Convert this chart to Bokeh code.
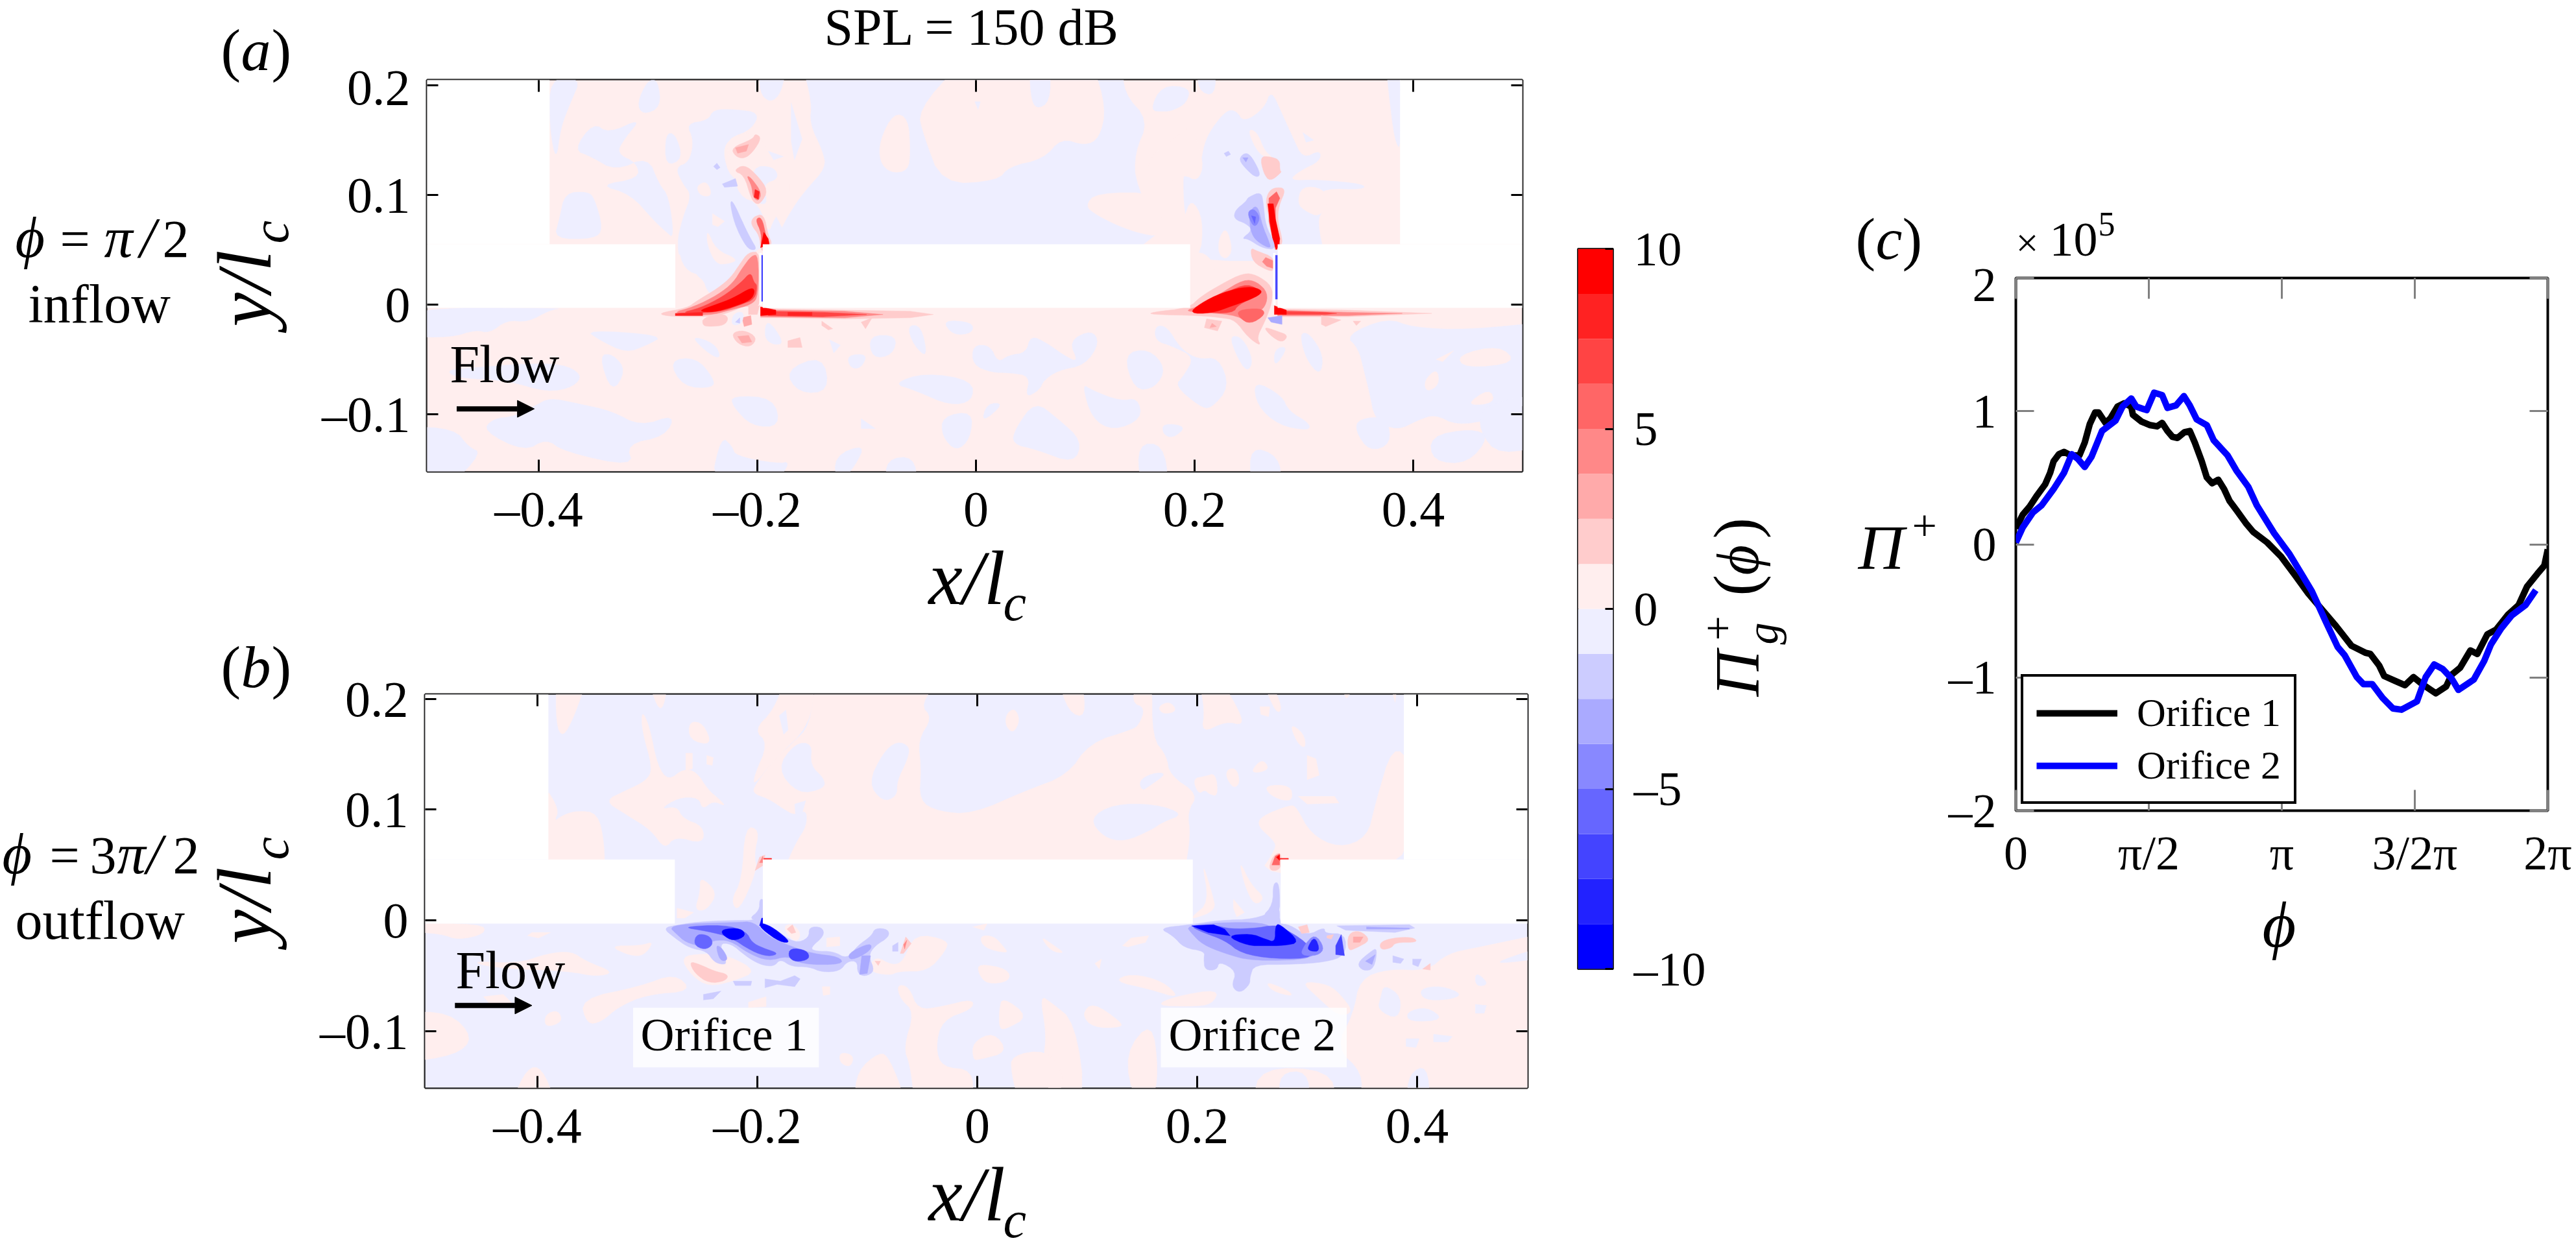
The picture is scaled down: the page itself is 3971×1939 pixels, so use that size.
import numpy as np
from bokeh.core.properties import value
from bokeh.embed import file_html
from bokeh.resources import INLINE
from bokeh.plotting import figure
from bokeh.layouts import row, column
from bokeh.models import Range1d, LinearAxis, FixedTicker, Arrow, NormalHead, Legend, LegendItem

# ---------- values ----------
X_TICKS = [-0.4, -0.2, 0, 0.2, 0.4]
X_TICK_TEXT = {-0.4: "\u20130.4", -0.2: "\u20130.2", 0: "0", 0.2: "0.2", 0.4: "0.4"}
Y_TICKS = [-0.1, 0, 0.1, 0.2]
Y_TICK_TEXT = {-0.1: "\u20130.1", 0: "0", 0.1: "0.1", 0.2: "0.2"}
CB_TICKS = [-10, -5, 0, 5, 10]
CB_TICK_TEXT = {-10: "\u201310", -5: "\u20135", 0: "0", 5: "5", 10: "10"}
CB_EDGES = [-10, -8.75, -7.5, -6.25, -5, -3.75, -2.5, -1.25, 0, 1.25, 2.5, 3.75, 5, 6.25, 7.5, 8.75, 10]
BAND_SHADES = ["#0000FF", "#2222FF", "#4444FF", "#6666FF", "#8888FF", "#AAAAFF", "#CCCCFF", "#EEEEFF",
               "#FFEEEE", "#FFCCCC", "#FFAAAA", "#FF8888", "#FF6666", "#FF4444", "#FF2222", "#FF0000"]

# solid walls, x0,x1,y0,y1 in units of 1/1000 l_c
WALLS = [(-520, -390, 55, 215), (-520, -275, -3, 55), (-195, 196, -3, 55), (276, 520, -3, 55), (388, 520, 55, 215)]

# field regions: (level, [(x, y), ...]), x and y in units of 1/1000 l_c, level = band number from zero
A_BG_BLUE = [
 [(-390,207),(-361,207),(-371,184),(-380,161),(-384,130),(-390,161)],
 [(-386,60),(-349,60),(-341,69),(-349,97),(-355,103),(-376,102),(-381,78)],
 [(-368,141),(-350,166),(-336,156),(-306,170),(-321,152),(-329,138),(-310,129),(-308,115),(-345,109),(-316,101),(-294,76),(-284,67),(-276,60),(-281,99),(-290,110),(-300,135),(-330,122),(-352,135)],
 [(-310,184),(-300,205),(-291,205),(-288,180),(-305,173)],
 [(-265,165),(-245,168),(-240,178),(-220,178),(-198,175),(-205,160),(-225,152),(-232,140),(-225,115),(-205,110),(-195,95),(-185,85),(-175,65),(-165,55),(-195,55),(-210,40),(-225,20),(-232,5),(-245,10),(-250,25),(-268,30),(-274,55),(-268,80),(-260,100),(-268,110),(-275,125),(-262,130),(-258,150)],
 [(-159,220),(-150,184),(-152,165),(-140,140),(-137,125),(-155,105),(-165,92),(-178,70),(-190,40),(180,40),(146,109),(145,138),(158,168),(135,193),(135,220)],
 [(190,129),(206,129),(209,147),(216,161),(229,177),(238,177),(245,166),(264,179),(270,196),(280,174),(290,152),(299,133),(315,141),(315,131),(296,122),(286,113),(312,114),(355,110),(355,105),(318,106),(315,97),(318,87),(312,76),(320,40),(180,40),(195,65),(190,90)],
 [(159,177),(170,200),(196,198),(193,184),(180,177),(172,176)],
 [(203,220),(219,220),(219,190),(203,195)],
 [(375,220),(389,220),(389,140),(383,150),(378,190)],
 [(299,157),(309,150),(302,148)],
 [(-198,220),(-173,220),(-178,193),(-188,184),(-198,193)],
 [(-169,184),(-159,151),(-166,132),(-169,149)],
 [(-284,156),(-275,156),(-268,133),(-284,126)],
 [(-525,-3),(-377,-3),(-390,-5),(-410,-16),(-429,-14),(-445,-26),(-458,-23),(-480,-30),(-525,-29)],
 [(-485,-60),(-465,-58),(-416,-54),(-378,-54),(-360,-64),(-368,-75),(-392,-80),(-429,-69),(-474,-67)],
 [(-403,-92),(-390,-85),(-365,-90),(-333,-97),(-307,-111),(-275,-100),(-284,-120),(-320,-127),(-313,-148),(-377,-134),(-393,-122),(-413,-134),(-451,-115),(-442,-104),(-422,-102)],
 [(-525,-111),(-477,-113),(-464,-130),(-452,-135),(-480,-165),(-525,-165)],
 [(-281,-51),(-256,-48),(-240,-67),(-240,-76),(-268,-75)],
 [(-357,-23),(-285,-28),(-301,-37),(-320,-44),(-345,-32)],
 [(-345,-46),(-332,-45),(-320,-60),(-333,-81)],
 [(-262,-28),(-239,-35),(-233,-49),(-243,-46)],
 [(-223,-83),(-185,-85),(-179,-111),(-205,-111),(-223,-92)],
 [(-175,-60),(-140,-46),(-134,-79),(-162,-81)],
 [(-191,-12),(-175,-35),(-185,-37),(-194,-30)],
 [(-98,-28),(-72,-28),(-76,-46),(-95,-49)],
 [(-76,-72),(-47,-62),(-3,-69),(-3,-88),(-24,-92),(-56,-78)],
 [(-31,-102),(-3,-97),(-5,-122),(-18,-134),(-31,-120)],
 [(-130,-138),(-101,-127),(-111,-148),(-127,-165)],
 [(-82,-141),(-57,-138),(-53,-165),(-82,-165)],
 [(-243,-165),(-233,-120),(-223,-129),(-220,-138),(-182,-145),(-169,-143),(-185,-165)],
 [(-105,-104),(-92,-113),(-105,-113)],
 [(-118,-46),(-99,-45),(-105,-58),(-115,-58)],
 [(-31,-14),(-3,-16),(-3,-26),(-21,-28)],
 [(-63,-19),(-50,-19),(-44,-49),(-57,-37)],
 [(-134,-32),(-124,-37),(-130,-44)],
 [(-3,-37),(13,-37),(20,-53),(30,-46),(46,-44),(50,-28),(65,-35),(80,-46),(94,-53),(85,-33),(106,-23),(113,-35),(100,-55),(75,-60),(62,-69),(58,-78),(45,-85),(50,-65),(30,-62),(15,-62),(-3,-55)],
 [(135,-45),(158,-40),(174,-58),(164,-76),(145,-78)],
 [(164,-19),(175,-20),(187,-40),(203,-50),(222,-48),(232,-75),(215,-95),(205,-93),(182,-74),(190,-65),(200,-48),(180,-38),(164,-33)],
 [(232,-28),(244,-30),(254,-51),(248,-62),(238,-46)],
 [(273,-40),(286,-38),(273,-58)],
 [(296,-26),(305,-26),(318,-46),(315,-65),(302,-50)],
 [(338,-28),(376,-12),(400,-21),(450,-23),(530,-15),(530,-70),(490,-100),(470,-105),(440,-110),(420,-100),(405,-105),(385,-115),(365,-105),(360,-80),(355,-60),(350,-40)],
 [(350,-104),(376,-102),(380,-127),(360,-134),(347,-115)],
 [(415,-120),(453,-113),(470,-120),(450,-145),(418,-143)],
 [(463,-90),(530,-80),(530,-125),(479,-138),(460,-115)],
 [(254,-69),(280,-83),(286,-97),(305,-108),(305,-115),(277,-110),(257,-92)],
 [(97,-72),(106,-78),(132,-88),(148,-85),(152,-104),(126,-115),(106,-104)],
 [(10,-90),(26,-90),(5,-108)],
 [(54,-88),(75,-104),(97,-124),(90,-145),(55,-132),(33,-127),(36,-113)],
 [(171,-108),(193,-111),(180,-122),(171,-118)],
 [(148,-127),(171,-127),(177,-165),(150,-165)],
 [(251,-129),(277,-138),(280,-165),(251,-165)],
]
A_BG_PINK = [
 [(-3,220),(-15,220),(-53,177),(-48,155),(-31,110),(20,113),(30,126),(62,133),(78,152),(100,145),(113,152),(119,179),(107,220)],
 [(-75,175),(-62,170),(-60,140),(-62,122),(-78,120),(-88,130),(-88,150)],
 [(100,90),(110,102),(168,102),(171,75),(168,62),(150,65),(130,72),(110,82)],
 [(155,125),(165,140),(183,152),(196,165),(209,130),(203,112),(190,119),(177,110),(164,124)],
 [(248,160),(257,158),(264,140),(273,133),(259,136)],
 [(222,60),(229,71),(235,50),(229,41),(222,46)],
 [(196,46),(209,48),(220,34),(216,23),(203,9),(196,4)],
 [(298,108),(318,106),(322,92),(314,80),(302,85),(294,92)],
 [(175,40),(190,78),(197,97),(208,78),(205,40)],
 [(-273,53),(-267,32),(-249,25),(-268,5),(-273,4)],
 [(-246,69),(-238,50),(-217,41),(-227,37),(-238,37),(-246,55)],
 [(-256,108),(-246,113),(-241,99),(-252,99)],
 [(-241,83),(-230,76),(-236,71),(-241,73)],
 [(-230,152),(-198,159),(-195,147),(-185,138),(-166,106),(-185,78),(-190,64),(-198,92),(-217,99),(-223,126)],
 [(410,-69),(422,-58),(424,-73),(412,-80)],
 [(421,-50),(437,-42),(427,-52)],
 [(440,-46),(479,-37),(495,-53),(447,-58)],
 [(447,-92),(470,-76),(475,-90)],
]
A_BG_BLUE2 = [
 [(49,220),(68,220),(68,185),(55,178),(50,190)],
 [(-1,185),(4,185),(2,178)],
 [(-205,126),(-185,126),(-180,115),(-195,110),(-190,90),(-205,95)],
 [(-190,140),(-176,135),(-185,132)],
 [(148,-52),(158,-50),(150,-58)],
]
A_JETS = [
 # orifice 1
 (2,[(-292,-8),(-264,-3),(-256,3),(-236,15),(-224,25),(-216,37),(-208,48),(-197,48),(-197,5),(-200,-3),(-212,-1),(-220,-5),(-232,-9),(-244,-11),(-279,-11)]),
 (4,[(-280,-8),(-258,-2),(-236,9),(-222,20),(-214,33),(-205,45),(-199,45),(-199,8),(-205,0),(-225,-5),(-244,-10)]),
 (6,[(-272,-8),(-252,-3),(-232,7),(-215,20),(-206,30),(-203,20),(-200,18),(-202,5),(-215,0),(-235,-7)]),
 (8,[(-255,-6),(-238,0),(-222,6),(-205,16),(-202,12),(-206,4),(-222,-2),(-240,-7)]),
 (7,[(-275,-8),(-250,-7),(-250,-10),(-275,-10)]),
 (2,[(-197,-3),(-180,-4),(-120,-5),(-60,-6),(-39,-9),(-60,-12),(-120,-13),(-180,-12),(-197,-12)]),
 (4,[(-197,-3),(-185,-5),(-120,-6),(-85,-9),(-120,-12),(-197,-11)]),
 (6,[(-190,-6),(-140,-7),(-100,-9),(-140,-11),(-190,-10)]),
 (8,[(-197,-2),(-183,-5),(-183,-9),(-197,-10)]),
 (7,[(-172,-7),(-150,-7),(-150,-10),(-172,-10)]),
 (2,[(-206,73),(-204,80),(-194,83),(-190,63),(-186,55),(-194,49),(-197,50),(-198,63)]),
 (5,[(-202,78),(-196,80),(-192,63),(-190,55),(-197,52),(-196,65)]),
 (8,[(-194,66),(-190,60),(-189,55),(-197,52)]),
 (2,[(-222,122),(-212,128),(-200,118),(-190,104),(-197,92),(-202,92),(-206,98),(-212,118)]),
 (4,[(-210,118),(-205,115),(-196,102),(-199,94),(-204,98),(-205,108)]),
 (7,[(-202,105),(-198,103),(-199,96),(-203,98)]),
 (2,[(-224,143),(-204,151),(-202,156),(-196,152),(-204,139),(-212,133),(-220,135)]),
 (3,[(-220,143),(-208,146),(-210,140),(-218,138)]),
 (2,[(-224,-26),(-212,-23),(-200,-30),(-206,-39),(-218,-36)]),
 (3,[(-218,-29),(-208,-28),(-205,-34),(-214,-35)]),
 (2,[(-250,-19),(-250,-12),(-232,-8),(-226,-12),(-230,-19),(-244,-20)]),
 (3,[(-214,-12),(-206,-10),(-205,-18),(-212,-20)]),
 (-1,[(-222,-8),(-212,-6),(-214,-18),(-224,-19)]),
 (-2,[(-220,-16),(-216,-12),(-216,-17)]),
 (2,[(-208,-1),(-198,-1),(-200,-9),(-208,-9)]),
 (2,[(-172,-33),(-161,-30),(-159,-39),(-172,-39)]),
 (2,[(-105,-16),(-95,-12),(-101,-22)]),
 (2,[(-141,-15),(-131,-22),(-135,-23),(-141,-19)]),
 (-2,[(-232,110),(-220,115),(-218,108),(-230,107)]),
 (-2,[(-240,126),(-237,129),(-234,125),(-237,123)]),
 (-2,[(-225,94),(-222,94),(-212,72),(-206,60),(-200,50),(-208,50),(-216,63),(-222,78)]),
 (0,[(-198,47),(-196,47),(-196,0),(-198,0)]),
 (-7,[(-196,45),(-194,45),(-194,3),(-196,3)]),
 # orifice 2
 (2,[(160,-7),(195,-3),(205,7),(225,19),(245,29),(257,27),(271,17),(271,3),(267,-9),(263,-18),(257,-30),(261,-38),(249,-30),(237,-14),(225,-12),(205,-10),(160,-9)]),
 (2,[(211,-13),(225,-15),(221,-24),(209,-21)]),
 (3,[(216,-17),(220,-20),(214,-21)]),
 (4,[(190,-6),(205,-1),(225,11),(245,23),(257,21),(267,11),(265,-2),(255,-9),(250,-18),(240,-10),(210,-7)]),
 (6,[(195,-6),(220,6),(245,19),(258,15),(258,8),(240,0),(235,-8),(205,-7)]),
 (8,[(195,-8),(205,1),(225,11),(249,17),(263,13),(257,7),(235,-1),(215,-8)]),
 (5,[(239,-5),(261,-3),(265,-9),(251,-18),(241,-12)]),
 (2,[(276,-4),(340,-5),(417,-8),(340,-11),(276,-11)]),
 (4,[(276,-5),(340,-7),(390,-8),(340,-10),(276,-10)]),
 (6,[(280,-6),(320,-7),(330,-8),(320,-9),(280,-9)]),
 (8,[(273,-1),(284,-5),(284,-9),(273,-9)]),
 (2,[(316,-10),(334,-14),(320,-20),(316,-18)]),
 (2,[(345,-15),(352,-15),(348,-19)]),
 (2,[(267,102),(273,107),(284,106),(277,90),(276,76),(280,61),(280,55),(276,49),(273,55),(269,76),(265,92)]),
 (5,[(268,97),(275,103),(278,97),(274,88),(274,76),(277,61),(278,55),(274,50),(272,58),(268,76)]),
 (8,[(267,92),(272,92),(274,78),(278,60),(277,54),(275,50),(272,57),(269,75)]),
 (2,[(251,52),(257,49),(273,43),(273,31),(267,31),(253,39)]),
 (4,[(265,43),(272,40),(272,33),(266,35),(262,39)]),
 (2,[(260,135),(269,135),(278,132),(278,122),(280,121),(269,112),(263,120)]),
 (-2,[(241,134),(247,139),(253,134),(261,118),(255,116),(243,128)]),
 (-3,[(244,134),(249,134),(247,130)]),
 (-2,[(227,138),(231,140),(233,137),(229,135)]),
 (-2,[(249,98),(261,103),(263,92),(265,72),(273,57),(273,50),(261,52),(249,60),(243,60),(253,68),(247,74),(236,78),(237,86),(247,94)]),
 (-3,[(252,88),(258,90),(262,72),(268,58),(270,51),(261,55),(253,62),(250,75)]),
 (-4,[(248,84),(254,88),(260,80),(257,72),(253,72)]),
 (-5,[(252,81),(256,80),(255,74)]),
 (-3,[(267,-12),(280,-10),(280,-18),(270,-16)]),
 (0,[(272,47),(274,47),(274,0),(272,0)]),
 (-6,[(274,45),(276,45),(276,5),(274,5)]),
 (2,[(263,-20),(275,-24),(286,-28),(280,-35),(269,-28)]),
]

B_BG_PINK = [
 [(-383,220),(-354,220),(-367,183),(-377,165),(-383,177)],
 [(-395,124),(-380,100),(-385,89),(-377,95),(-364,99),(-345,97),(-339,69),(-339,40),(-395,40)],
 [(-300,220),(-281,220),(-285,192),(-291,192)],
 [(-339,108),(-320,117),(-301,126),(-295,137),(-305,172),(-305,190),(-298,175),(-291,140),(-281,126),(-267,137),(-255,134),(-245,118),(-233,108),(-229,103),(-240,108),(-250,100),(-253,111),(-272,111),(-289,100),(-273,103),(-268,92),(-249,85),(-249,69),(-275,76),(-284,64),(-297,82),(-320,96)],
 [(-265,151),(-259,151),(-259,137),(-265,135)],
 [(-262,180),(-249,178),(-241,158),(-262,163)],
 [(-246,149),(-240,147),(-241,140),(-246,141)],
 [(-174,220),(-147,220),(-152,176),(-185,145),(-203,122),(-203,130),(-190,160),(-203,172),(-185,190)],
 [(-147,220),(-152,176),(-168,160),(-185,145),(-200,125),(-205,115),(-190,110),(-175,100),(-166,95),(-155,100),(-155,85),(-165,70),(-178,40),(188,40),(194,77),(191,98),(201,114),(175,131),(172,149),(159,165),(159,220),(147,220),(140,197),(153,192),(147,176),(140,172),(102,160),(82,131),(44,117),(-4,96),(-35,98),(-53,108),(-51,137),(-54,163),(-41,183),(-52,195),(-32,220)],
 [(-273,11),(-258,7),(-266,2),(-273,2)],
 [(-252,40),(-236,25),(-246,9),(-257,9),(-252,25)],
 [(-211,85),(-198,82),(-203,59),(-200,46),(-217,7),(-224,18),(-214,36)],
 [(-525,-83),(-480,-83),(-458,-106),(-474,-122),(-525,-129)],
 [(-525,-3),(-450,-3),(-447,-12),(-472,-18),(-488,-12),(-525,-10)],
 [(-405,-11),(-388,-11),(-399,-16),(-409,-14)],
 [(-458,-37),(-417,-39),(-391,-30),(-369,-28),(-356,-37),(-330,-47),(-346,-51),(-372,-46),(-423,-44),(-449,-41)],
 [(-335,-23),(-306,-23),(-294,-19),(-303,-32),(-316,-32)],
 [(-449,-69),(-431,-67),(-422,-76),(-441,-78)],
 [(-361,-71),(-307,-60),(-275,-48),(-259,-64),(-300,-67),(-326,-78),(-342,-92),(-355,-94)],
 [(-393,-85),(-381,-81),(-377,-92),(-393,-97)],
 [(-208,-74),(-192,-69),(-192,-78),(-208,-79)],
 [(-424,-165),(-409,-133),(-396,-133),(-383,-165)],
 [(-270,-33),(-249,-30),(-226,-32),(-200,-46),(-222,-55),(-244,-60),(-260,-50)],
 [(-99,-46),(-93,-32),(-77,-41),(-67,-37),(-57,-12),(-26,-18),(-29,-28),(-45,-46),(-71,-46),(-80,-50)],
 [(-176,-5),(-168,-3),(-160,-12),(-164,-20),(-172,-14)],
 [(-137,-16),(-125,-15),(-125,-23),(-137,-24)],
 [(-141,-60),(-134,-60),(-134,-67),(-140,-68)],
 [(-125,-119),(-112,-122),(-115,-133),(-125,-129)],
 [(-109,-136),(-89,-119),(-80,-124),(-64,-165),(-112,-165)],
 [(-73,-58),(-62,-60),(-54,-81),(-32,-78),(-4,-71),(-4,-80),(-32,-90),(-38,-115),(-32,-133),(-4,-135),(-4,-165),(-57,-165),(-61,-131),(-67,-115),(-57,-83),(-70,-71)],
 [(-4,-6),(9,-3),(6,-9)],
 [(2,-14),(15,-14),(25,-25),(28,-30),(6,-25)],
 [(57,-14),(70,-23),(80,-30),(67,-28)],
 [(132,-23),(140,-16),(156,-14),(153,-20),(137,-24)],
 [(1,-39),(28,-44),(30,-55),(9,-58),(1,-48)],
 [(107,-39),(113,-35),(111,-44)],
 [(124,-55),(140,-48),(169,-55),(185,-71),(156,-62)],
 [(262,-55),(284,-64),(287,-69),(268,-64)],
 [(294,-55),(320,-58),(332,-69),(342,-83),(329,-87),(310,-70)],
 [(348,-53),(374,-44),(409,-46),(428,-30),(453,-25),(530,-9),(530,-165),(348,-165),(351,-138),(326,-115),(342,-85)],
 [(250,-165),(258,-133),(320,-135),(328,-165)],
 [(20,-81),(23,-69),(47,-87),(25,-99),(20,-97)],
 [(57,-68),(67,-74),(89,-92),(99,-165),(67,-165),(60,-126),(63,-103)],
 [(95,-85),(105,-74),(131,-92),(131,-97),(105,-97)],
 [(-4,-110),(15,-101),(28,-119),(2,-126),(-4,-126)],
 [(31,-122),(63,-117),(79,-138),(73,-165),(38,-165),(31,-138)],
 [(134,-120),(159,-90),(165,-138),(159,-165),(143,-165)],
 [(162,-77),(179,-69),(220,-62),(214,-76),(194,-78)],
 [(73,220),(95,220),(99,183),(83,188)],
 [(26,186),(34,192),(39,181),(33,169),(26,175)],
 [(164,193),(175,198),(182,189),(169,186)],
 [(182,220),(201,220),(207,190),(204,169),(226,180),(242,176),(238,190),(220,220)],
 [(258,220),(265,220),(278,192),(272,186)],
 [(257,193),(266,193),(265,184),(258,186)],
 [(284,178),(297,169),(299,155),(291,160)],
 [(332,220),(345,220),(335,195)],
 [(374,220),(383,220),(380,197)],
 [(300,149),(308,146),(311,131),(300,127)],
 [(249,135),(259,146),(266,137),(255,133)],
 [(228,137),(236,137),(239,124),(233,119),(226,130)],
 [(196,128),(207,130),(217,133),(219,112),(211,114),(207,118),(201,114)],
 [(262,122),(285,122),(287,109),(278,108),(265,114)],
 [(292,112),(325,112),(329,106),(300,105)],
 [(378,159),(395,142),(395,40),(255,40),(272,65),(270,72),(255,85),(258,94),(284,104),(290,103),(303,78),(329,65),(355,75),(362,105)],
 [(238,55),(249,32),(262,20),(252,13),(243,32)],
 [(204,55),(214,23),(217,9),(196,1),(196,4),(211,16)],
 [(233,19),(243,7),(236,3),(233,11)],
]
B_BG_BLUE = [
 [(-99,124),(-86,151),(-73,162),(-61,157),(-64,144),(-73,126),(-73,112),(-86,107)],
 [(-182,137),(-166,160),(-150,160),(-152,140),(-139,128),(-139,119),(-163,114)],
 [(-166,105),(-156,108),(-160,94),(-165,92)],
 [(102,92),(124,105),(162,105),(188,96),(169,89),(159,82),(134,71),(115,75)],
 [(147,126),(159,133),(173,133),(156,121),(150,117)],
 [(-180,185),(-174,190),(-172,172),(-176,168)],
 [(402,-62),(422,-59),(442,-67),(428,-72),(406,-72)],
 [(390,-83),(409,-78),(425,-90),(393,-92)],
 [(473,-37),(530,-19),(530,-32),(479,-39)],
 [(453,-46),(466,-58),(453,-60)],
 [(390,-107),(402,-107),(399,-115),(390,-114)],
 [(415,-103),(432,-105),(428,-110),(415,-110)],
 [(370,-58),(386,-69),(383,-90),(364,-81),(367,-69)],
 [(453,-76),(463,-77),(461,-84),(453,-84)],
 [(275,-165),(275,-138),(300,-136),(303,-165)],
 [(390,-165),(393,-138),(409,-131),(412,-165)],
]
B_JETS = [
 # orifice 1
 (2,[(-262,-37),(-252,-40),(-239,-46),(-226,-49),(-229,-55),(-244,-57),(-257,-48)]),
 (2,[(-173,-8),(-168,-4),(-165,-11),(-169,-12)]),
 (2,[(-93,-37),(-88,-37),(-90,-41)]),
 (2,[(-70,-30),(-65,-15),(-60,-21),(-67,-30)]),
 (4,[(-67,-22),(-64,-18),(-66,-26)]),
 (-2,[(-198,19),(-194,19),(-194,0),(-208,1),(-198,9)]),
 (-2,[(-286,-7),(-272,-4),(-249,-1),(-217,0),(-203,0),(-200,4),(-194,4),(-194,-4),(-185,-7),(-166,-21),(-153,-16),(-153,-6),(-141,-6),(-139,-14),(-152,-25),(-147,-28),(-131,-28),(-118,-35),(-109,-23),(-96,-14),(-93,-7),(-81,-8),(-80,-15),(-93,-23),(-99,-32),(-93,-46),(-102,-51),(-109,-48),(-109,-37),(-118,-37),(-125,-46),(-141,-47),(-153,-42),(-169,-42),(-179,-35),(-185,-42),(-198,-40),(-211,-32),(-224,-21),(-235,-21),(-227,-39),(-233,-40),(-240,-37),(-246,-28),(-262,-25),(-275,-16)]),
 (-3,[(-280,-6),(-262,-3),(-220,-2),(-203,-1),(-190,-15),(-168,-24),(-150,-30),(-125,-33),(-122,-40),(-160,-40),(-172,-32),(-190,-37),(-208,-30),(-225,-18),(-240,-18),(-250,-24),(-265,-20),(-274,-12)]),
 (-3,[(-238,-22),(-232,-25),(-226,-36),(-234,-37)]),
 (-5,[(-270,-6),(-230,-4),(-210,-10),(-205,-20),(-195,-25),(-180,-30),(-190,-33),(-205,-28),(-225,-15),(-245,-10)]),
 (-5,[(-255,-12),(-243,-14),(-240,-22),(-248,-27),(-258,-22)]),
 (-6,[(-170,-25),(-155,-27),(-152,-35),(-165,-38),(-172,-33)]),
 (-8,[(-232,-8),(-215,-7),(-210,-14),(-222,-19),(-232,-13)]),
 (-8,[(-198,-3),(-194,-3),(-185,-7),(-169,-20),(-179,-20),(-196,-8)]),
 (-8,[(-196,2),(-194,2),(-194,-3),(-198,-5)]),
 (-3,[(-118,-30),(-97,-20),(-96,-27),(-115,-37)]),
 (-2,[(-222,-55),(-205,-55),(-206,-59),(-220,-59)]),
 (-2,[(-193,-53),(-179,-55),(-166,-50),(-161,-53),(-166,-60),(-182,-58),(-193,-61)]),
 (-2,[(-249,-67),(-233,-64),(-240,-71),(-249,-72)]),
 (-3,[(-105,-32),(-97,-32),(-100,-48),(-107,-49)]),
 (-2,[(-77,-23),(-72,-20),(-72,-28),(-77,-28)]),
 (2,[(-202,45),(-198,57),(-193,59),(-194,50)]),
 (4,[(-198,52),(-195,58),(-194,52)]),
 (7,[(-194,56),(-187,56),(-187,55),(-194,55)]),
 # orifice 2
 (-2,[(269,34),(275,34),(275,0),(258,2),(269,14)]),
 (-2,[(165,-7),(194,-4),(220,0),(252,1),(271,9),(275,11),(275,-3),(284,-4),(300,-14),(316,-6),(316,-12),(335,-12),(335,-32),(316,-38),(284,-40),(252,-40),(248,-51),(248,-58),(239,-66),(231,-60),(236,-46),(220,-37),(218,-45),(207,-45),(206,-35),(207,-28),(188,-25),(178,-14)]),
 (-2,[(327,-5),(393,-4),(398,-7),(380,-11),(335,-9)]),
 (-3,[(354,-6),(393,-7),(393,-8),(354,-8)]),
 (-3,[(190,-5),(220,-2),(260,-2),(270,-8),(300,-20),(310,-35),(250,-37),(225,-30),(205,-22),(195,-12)]),
 (-5,[(193,-5),(215,-4),(230,-8),(255,-7),(265,-5),(275,-5),(300,-20),(308,-34),(270,-35),(240,-30),(225,-18),(205,-11)]),
 (-8,[(195,-5),(215,-4),(225,-8),(230,-14),(210,-11)]),
 (-8,[(226,-14),(249,-12),(262,-17),(271,-20),(271,-5),(275,-3),(294,-20),(278,-23),(262,-23),(246,-23)]),
 (-4,[(297,-23),(307,-12),(316,-25),(310,-32),(294,-32)]),
 (-7,[(300,-25),(307,-14),(312,-28),(303,-28)]),
 (-6,[(326,-23),(331,-13),(334,-32),(326,-31)]),
 (-2,[(345,-39),(358,-28),(364,-25),(361,-44),(351,-46)]),
 (-3,[(353,-37),(362,-31),(359,-40)]),
 (-2,[(378,-32),(388,-35),(385,-39),(378,-38)]),
 (-2,[(396,-35),(404,-35),(401,-42),(396,-40)]),
 (2,[(337,-12),(348,-9),(358,-18),(345,-25),(337,-28)]),
 (3,[(342,-15),(351,-15),(348,-20),(342,-20)]),
 (2,[(366,-20),(377,-16),(396,-15),(401,-20),(380,-20),(377,-25),(367,-27)]),
 (2,[(292,-6),(300,-4),(302,-11),(295,-12)]),
 (2,[(318,-14),(324,-13),(322,-17),(318,-16)]),
 (2,[(405,-44),(412,-39),(412,-45)]),
 (2,[(265,45),(268,57),(275,62),(277,55),(275,45)]),
 (5,[(268,50),(271,58),(275,60),(275,50)]),
 (8,[(272,57),(275,59),(275,54)]),
 (7,[(275,56),(283,56),(283,55),(275,55)]),
]

# panel (c), phi in units of pi, Pi+ in units of 1e5
PHI_1 = [0,.026,.052,.078,.110,.129,.142,.162,.181,.207,.239,.259,.278,.298,.311,.337,.356,.382,.408,.434,.440,.473,.505,.531,.550,.570,.589,.608,.634,.654,.673,.699,.718,.738,.761,.783,.803,.829,.867,.893,.945,.997,1.049,1.100,1.152,1.204,1.262,1.314,1.333,1.366,1.385,1.424,1.463,1.495,1.528,1.579,1.618,1.638,1.670,1.709,1.735,1.773,1.806,1.851,1.890,1.922,1.961,1.987,2.000]
PI_1 = [.119,.223,.284,.363,.450,.537,.624,.677,.694,.668,.668,.764,.903,.990,.990,.912,.947,1.034,1.060,1.034,.973,.921,.895,.886,.912,.851,.807,.799,.842,.851,.764,.624,.502,.459,.485,.415,.328,.258,.153,.092,.014,-.091,-.230,-.370,-.492,-.614,-.762,-.814,-.823,-.910,-.989,-1.024,-1.058,-.997,-1.050,-1.119,-1.067,-.980,-.928,-.797,-.823,-.675,-.640,-.527,-.457,-.317,-.221,-.160,-.038]
PHI_2 = [0,.026,.065,.097,.142,.181,.210,.233,.259,.285,.324,.375,.401,.434,.453,.492,.520,.550,.570,.602,.632,.654,.680,.718,.744,.796,.829,.874,.906,.971,1.029,1.113,1.165,1.210,1.236,1.282,1.307,1.340,1.379,1.418,1.450,1.508,1.541,1.573,1.605,1.638,1.664,1.722,1.761,1.786,1.825,1.864,1.916,1.955]
PI_2 = [.014,.127,.241,.293,.415,.537,.677,.642,.581,.659,.851,.929,1.034,1.095,1.034,1.008,1.139,1.121,1.025,1.043,1.113,1.043,.938,.895,.781,.668,.555,.432,.293,.084,-.073,-.352,-.579,-.771,-.832,-.997,-1.050,-1.050,-1.154,-1.233,-1.242,-1.180,-.997,-.902,-.936,-1.006,-1.093,-1.015,-.875,-.753,-.631,-.535,-.457,-.344]
C_X_TICK_POS = [0, 0.5, 1, 1.5, 2]
C_X_TICK_TEXT = ["0", "\u03c0/2", "\u03c0", "3/2\u03c0", "2\u03c0"]
C_Y_TICKS = [-2, -1, 0, 1, 2]
C_Y_TICK_TEXT = {-2: "\u20132", -1: "\u20131", 0: "0", 1: "1", 2: "2"}

FONT = "Liberation Serif"
BASELINE_SHIFT = 0.35  # the page draws alphabetic text this many em lower than asked


def shade(level):
    if level == 0:
        return "#FFFFFF"
    return BAND_SHADES[7 + level] if level > 0 else BAND_SHADES[8 + level]


def round_outline(poly):
    """Cut the corners of a region's outline, as its contour lines are round in the picture."""
    xs = [q[0] for q in poly]
    ys = [q[1] for q in poly]
    if max(xs) - min(xs) < 12 or max(ys) - min(ys) < 12:
        return poly
    pts = list(poly)
    for _ in range(2):
        out = []
        for i in range(len(pts)):
            p0, p1 = pts[i], pts[(i + 1) % len(pts)]
            out.append((0.75 * p0[0] + 0.25 * p1[0], 0.75 * p0[1] + 0.25 * p1[1]))
            out.append((0.25 * p0[0] + 0.75 * p1[0], 0.25 * p0[1] + 0.75 * p1[1]))
        pts = out
    return pts


class Panel:
    """A figure whose frame sits at given page pixels; text helpers take page pixels."""
    def __init__(self, left, top, fl, fr, ft, fb, right, bottom, xr, yr, outline=True):
        self.left, self.top, self.fl, self.fr, self.ft, self.fb = left, top, fl, fr, ft, fb
        self.xr, self.yr = xr, yr
        self.p = figure(x_range=Range1d(*xr), y_range=Range1d(*yr), frame_width=fr - fl, frame_height=fb - ft,
                        min_border_left=fl - left, min_border_right=right - fr, min_border_top=ft - top,
                        min_border_bottom=bottom - fb, toolbar_location=None, output_backend="svg",
                        x_axis_type=None, y_axis_type=None, background_fill_color=None, border_fill_color=None,
                        outline_line_color="#222222" if outline else None, outline_line_width=4, frame_align=False)
        self.p.grid.visible = False

    def tx(self, px):
        return self.xr[0] + (px - self.fl) * (self.xr[1] - self.xr[0]) / (self.fr - self.fl)

    def ty(self, py):
        return self.yr[1] - (py - self.ft) * (self.yr[1] - self.yr[0]) / (self.fb - self.ft)

    def text(self, s, px, py, size, style="normal", angle=0.0):
        if angle:
            px -= BASELINE_SHIFT * size
        else:
            py -= BASELINE_SHIFT * size
        self.p.text(x=[self.tx(px)], y=[self.ty(py)], text=[s], text_font=value(FONT), text_font_size=f"{size}px",
                    text_font_style=style, text_color="black", angle=angle, text_align="left",
                    text_baseline="alphabetic")


def strip(left, top, right, bottom):
    return Panel(left, top, left, right, top, bottom, right, bottom, (0, 1), (0, 1), outline=False)


def add_axis(p, place, ticks, texts, size, standoff, tick_in, color="#000000", width=3):
    ax = LinearAxis(ticker=FixedTicker(ticks=ticks))
    ax.major_tick_in = tick_in
    ax.major_tick_out = 0
    ax.minor_tick_line_color = None
    ax.axis_line_color = None
    ax.major_tick_line_color = color
    ax.major_tick_line_width = width
    ax.major_label_text_font = FONT
    if texts is None:
        ax.major_label_text_font_size = "0px"
        ax.major_label_text_color = None
        ax.major_label_standoff = 0
    else:
        ax.major_label_overrides = texts
        ax.major_label_text_font_size = f"{size}px"
        ax.major_label_text_color = "black"
        ax.major_label_standoff = standoff
    p.add_layout(ax, place)
    return ax


def draw_polys(p, polys, colors):
    polys = [round_outline(poly) for poly in polys]
    p.patches([[q[0] / 1000 for q in poly] for poly in polys],
              [[q[1] / 1000 for q in poly] for poly in polys],
              fill_color=colors, line_color=colors, line_width=0.5)


def field_panel(pn, base, layers):
    p = pn.p
    p.quad(left=[pn.xr[0]], right=[pn.xr[1]], bottom=[pn.yr[0]], top=[pn.yr[1]], fill_color=shade(base), line_color=None)
    for level, polys in layers:
        draw_polys(p, polys, [shade(level)] * len(polys))
    for lev, poly in (A_JETS if base > 0 else B_JETS):
        draw_polys(p, [poly], [shade(lev)])
    p.quad(left=[w[0] / 1000 for w in WALLS], right=[w[1] / 1000 for w in WALLS],
           bottom=[w[2] / 1000 for w in WALLS], top=[w[3] / 1000 for w in WALLS],
           fill_color="white", line_color=None)
    add_axis(p, "below", X_TICKS, X_TICK_TEXT, 78, 14, 18)
    add_axis(p, "left", Y_TICKS, Y_TICK_TEXT, 78, 26, 17)
    add_axis(p, "above", X_TICKS, None, 0, 0, 18)
    add_axis(p, "right", Y_TICKS, None, 0, 0, 17)


def arrow(p, x0, x1, y):
    p.add_layout(Arrow(end=NormalHead(size=26, fill_color="black", line_color="black"),
                       x_start=x0, x_end=x1, y_start=y, y_end=y, line_color="black", line_width=8))


# ---------- text strips round the panels ----------
left_strip = strip(0, 0, 480, 1931)
top_strip = strip(480, 0, 2428, 90)
under_a = strip(480, 830, 2428, 1028)
under_b = strip(480, 1790, 2428, 1931)
mid_strip = strip(2630, 0, 2990, 1931)
over_c = strip(2990, 0, 3965, 397)
under_c = strip(2990, 1365, 3965, 1931)

# ---------- panel (a) ----------
a = Panel(480, 90, 658, 2346, 123, 726, 2428, 830, (-0.502, 0.4997), (-0.152, 0.2047))
field_panel(a, 1, [(-1, A_BG_BLUE), (1, A_BG_PINK), (-1, A_BG_BLUE2)])
top_strip.text("SPL = 150 dB", 1270, 69, 80)
L = left_strip
L.text("(", 340, 109, 92); L.text("a", 371, 109, 92, "italic"); L.text(")", 418, 109, 92)
L.text("\u03d5", 23, 397, 88, "italic"); L.text("=", 92, 397, 82); L.text("\u03c0", 160, 397, 88, "italic")
L.text("/", 215, 397, 88, "italic"); L.text("2", 250, 397, 82)
L.text("inflow", 43, 497, 84)
L.text("y/l", 418, 503, 118, "italic", np.pi / 2); L.text("c", 444, 375, 80, "italic", np.pi / 2)
under_a.text("x/l", 1431, 932, 118, "italic"); under_a.text("c", 1546, 956, 80, "italic")
a.text("Flow", 693, 590, 82)
arrow(a.p, -0.475, -0.404, -0.095)

# ---------- panel (b) ----------
b = Panel(480, 1028, 655, 2354, 1070, 1676, 2428, 1790, (-0.502, 0.5003), (-0.1513, 0.204))
field_panel(b, -1, [(1, B_BG_PINK), (-1, B_BG_BLUE)])
b.p.quad(left=[-0.313, 0.167], right=[-0.144, 0.336], bottom=[-0.133, -0.133], top=[-0.079, -0.079],
         fill_color="white", fill_alpha=0.8, line_color=None)
b.text("Orifice 1", 987, 1620, 72)
b.text("Orifice 2", 1801, 1620, 72)
L.text("(", 340, 1060, 92); L.text("b", 371, 1060, 92, "italic"); L.text(")", 418, 1060, 92)
L.text("\u03d5", 3, 1347, 88, "italic"); L.text("=", 76, 1347, 82); L.text("3", 138, 1347, 82)
L.text("\u03c0", 180, 1347, 88, "italic"); L.text("/", 225, 1347, 88, "italic"); L.text("2", 266, 1347, 82)
L.text("outflow", 23, 1447, 84)
L.text("y/l", 418, 1454, 118, "italic", np.pi / 2); L.text("c", 444, 1325, 80, "italic", np.pi / 2)
under_b.text("x/l", 1431, 1882, 118, "italic"); under_b.text("c", 1546, 1907, 80, "italic")
b.text("Flow", 702, 1524, 82)
arrow(b.p, -0.475, -0.405, -0.077)

# ---------- colour bar ----------
cb = Panel(2428, 0, 2432, 2486, 383, 1493, 2630, 1931, (0, 1), (-10, 10))
cb.p.outline_line_width = 3
cb.p.quad(left=0, right=1, bottom=CB_EDGES[:-1], top=CB_EDGES[1:], fill_color=BAND_SHADES, line_color=None)
add_axis(cb.p, "right", CB_TICKS, CB_TICK_TEXT, 74, 32, 12)
M = mid_strip
M.text("\u03a0", 2710, 1073, 98, "italic", np.pi / 2)
M.text("g", 2738, 993, 68, "italic", np.pi / 2)
M.text("+", 2670, 987, 68, "normal", np.pi / 2)
M.text("(", 2708, 918, 98, "normal", np.pi / 2)
M.text("\u03d5", 2708, 886, 90, "italic", np.pi / 2)
M.text(")", 2708, 830, 98, "normal", np.pi / 2)

# ---------- panel (c) ----------
c = Panel(2990, 397, 3105, 3925, 428, 1249, 3965, 1365, (0, 2 * np.pi), (-2, 2))
cp = c.p
add_axis(cp, "below", [v * np.pi for v in C_X_TICK_POS],
         {v * np.pi: t for v, t in zip(C_X_TICK_POS, C_X_TICK_TEXT)}, 74, 24, 32, "#808080", 3)
add_axis(cp, "left", C_Y_TICKS, C_Y_TICK_TEXT, 74, 30, 28, "#808080", 3)
add_axis(cp, "above", [v * np.pi for v in C_X_TICK_POS], None, 0, 0, 32, "#808080", 3)
add_axis(cp, "right", C_Y_TICKS, None, 0, 0, 28, "#808080", 3)
l1 = cp.line([v * np.pi for v in PHI_1], PI_1, line_color="black", line_width=10, line_join="round")
l2 = cp.line([v * np.pi for v in PHI_2], PI_2, line_color="#0000FF", line_width=10, line_join="round")
cp.outline_line_color = "black"
legend = Legend(items=[LegendItem(label="Orifice 1", renderers=[l1]), LegendItem(label="Orifice 2", renderers=[l2])],
                location=(8, 10), orientation="vertical", label_text_font=FONT, label_text_font_size="62px",
                label_text_color="black", glyph_width=125, glyph_height=70, label_height=70, label_standoff=30,
                spacing=10, padding=20, margin=0, border_line_color="black", border_line_width=4,
                border_line_alpha=1.0, background_fill_alpha=1.0)
cp.add_layout(legend, "center")
M.text("(", 2858, 400, 92); M.text("c", 2889, 400, 92, "italic"); M.text(")", 2930, 400, 92)
over_c.text("\u00d7", 3105, 395, 62); over_c.text("10", 3157, 395, 74); over_c.text("5", 3232, 363, 52)
M.text("\u03a0", 2862, 878, 98, "italic"); M.text("+", 2945, 834, 68)
under_c.text("\u03d5", 3485, 1460, 100, "italic")

layout = row(left_strip.p,
             column(top_strip.p, a.p, under_a.p, b.p, under_b.p, spacing=0),
             cb.p, mid_strip.p,
             column(over_c.p, c.p, under_c.p, spacing=0), spacing=0)
open("out.html", "w").write(file_html(layout, INLINE))
